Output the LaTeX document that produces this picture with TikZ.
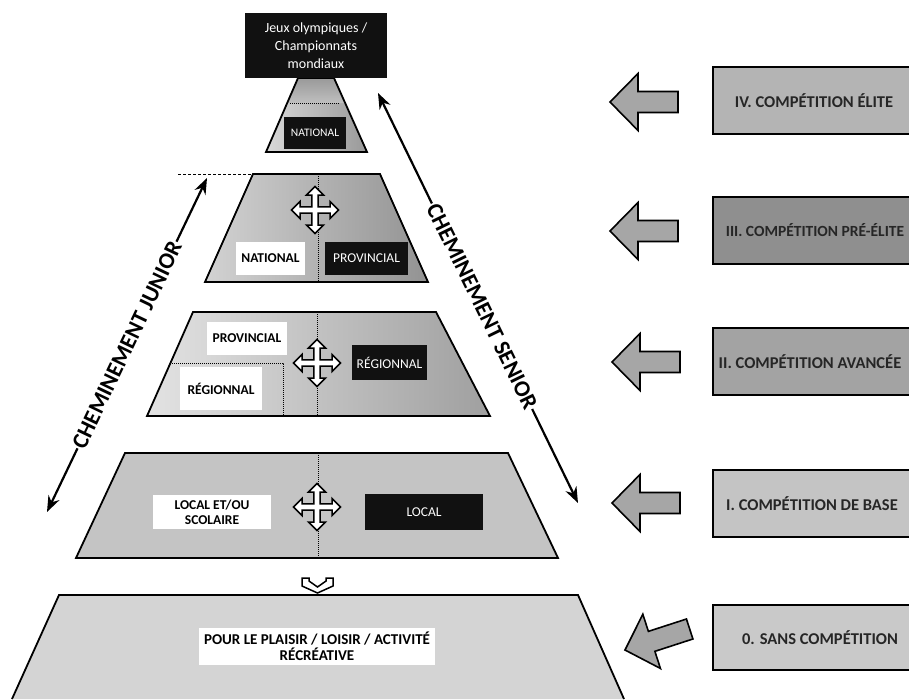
\documentclass[tikz,border=0pt]{standalone}
\usepackage{fontspec}
\setmainfont{Carlito}
\usetikzlibrary{arrows.meta}
\definecolor{arrowgray}{HTML}{A6A6A6}
\definecolor{boxfour}{HTML}{B4B4B4}
\definecolor{boxthree}{HTML}{8F8F8F}
\definecolor{boxtwo}{HTML}{A3A3A3}
\definecolor{boxone}{HTML}{C4C4C4}
\definecolor{boxzero}{HTML}{C9C9C9}
\definecolor{inkblack}{HTML}{111111}
\begin{document}
\begin{tikzpicture}[x=1pt,y=-1pt,
  trap/.style={draw=black, line width=1.8pt, line join=miter},
  divider/.style={densely dotted, line width=1pt},
  lightlabel/.style={fill=white, text=black, inner sep=0pt, align=center,
    font=\bfseries\fontsize{13.5}{15}\selectfont},
  darklabel/.style={fill=inkblack, text=white, inner sep=0pt, align=center,
    font=\fontsize{13.5}{15}\selectfont},
  levelbox/.style={draw=black, line width=1.8pt},
  leveltext/.style={font=\bfseries\fontsize{16.5}{18}\selectfont, text=black!85},
  diag/.style={line width=2.2pt, arrows={Stealth[length=16pt,width=12pt]-Stealth[length=16pt,width=12pt]}},
  pathlabel/.style={fill=white, inner sep=1.5pt, font=\bfseries\fontsize{23}{25}\selectfont},
  leftblock/.pic={\draw[fill=arrowgray, line width=1.6pt, line join=miter]
     (0,0) -- (28,-28.5) -- (28,-10.5) -- (68,-10.5) -- (68,10.5) -- (28,10.5) -- (28,28.5) -- cycle;},
  fourway/.pic={\draw[fill=white, line width=1.5pt, line join=miter]
     (3.2,-3.2) -- (15,-3.2) -- (15,-8.5) -- (23.5,0) -- (15,8.5) -- (15,3.2) -- (3.2,3.2)
     -- (3.2,15) -- (8.5,15) -- (0,23.5) -- (-8.5,15) -- (-3.2,15) -- (-3.2,3.2)
     -- (-15,3.2) -- (-15,8.5) -- (-23.5,0) -- (-15,-8.5) -- (-15,-3.2) -- (-3.2,-3.2)
     -- (-3.2,-15) -- (-8.5,-15) -- (0,-23.5) -- (8.5,-15) -- (3.2,-15) -- cycle;}
]
\useasboundingbox (0,0) rectangle (909,699);
\clip (0,0) rectangle (909,699);

% ---------- level 0: recreation ----------
\fill[color=boxzero!80!white] (59,595) -- (578,595) -- (624,699) -- (12,699) -- cycle;
\draw[trap] (12,699) -- (59,595) -- (578,595) -- (624,699);
\node[lightlabel, font=\bfseries\fontsize{15}{16}\selectfont, minimum width=236pt, minimum height=37pt]
  (recre) at (317,646.5) {POUR LE PLAISIR / LOISIR / ACTIVITÉ\\RÉCRÉATIVE};

% chevron between level 0 and level I
\draw[fill=white, line width=1.5pt, line join=miter] (302,578) -- (309,578) -- (309,581) -- (317.5,587)
  -- (326,581) -- (326,578) -- (333,578) -- (333,586) -- (317.5,593) -- (302,586) -- cycle;

% ---------- level I ----------
\fill[color=boxone] (125,453) -- (508,453) -- (558,558) -- (76,558) -- cycle;
\draw[trap] (125,453) -- (508,453) -- (558,558) -- (76,558) -- cycle;
\draw[divider] (318,453) -- (318,558);
\node[lightlabel, minimum width=118pt, minimum height=34pt] (localscol) at (212,512)
  {LOCAL ET/OU\\SCOLAIRE};
\node[darklabel, minimum width=118pt, minimum height=36pt] (localblk) at (424,512) {LOCAL};
\pic at (317,507) {fourway};

% ---------- level II ----------
\shade[left color=gray!22, right color=gray!75] (193,312) -- (436,312) -- (490,416) -- (147,416) -- cycle;
\draw[trap] (193,312) -- (436,312) -- (490,416) -- (147,416) -- cycle;
\draw[divider] (317,312) -- (317,416);
\draw[divider] (170,363) -- (283,363) -- (283,416);
\node[lightlabel, minimum width=80pt, minimum height=33pt] (provw) at (247,338.5) {PROVINCIAL};
\node[lightlabel, minimum width=82pt, minimum height=43pt] (regw) at (221,388.5) {RÉGIONNAL};
\node[darklabel, minimum width=75pt, minimum height=35pt] (regblk) at (389.5,362.5) {RÉGIONNAL};
\pic at (317,363) {fourway};

% ---------- level III ----------
\shade[left color=gray!35, right color=gray!85] (253,174) -- (380,174) -- (428,282) -- (205,282) -- cycle;
\draw[trap] (253,174) -- (380,174) -- (428,282) -- (205,282) -- cycle;
\draw[divider] (318,174) -- (318,282);
\draw[densely dashed, line width=1pt] (178,174) -- (253,174);
\node[lightlabel, minimum width=69pt, minimum height=33pt] (natw) at (270.5,258.5) {NATIONAL};
\node[darklabel, minimum width=83pt, minimum height=33pt] (provblk) at (366.5,258.5) {PROVINCIAL};
\pic at (315,210) {fourway};

% ---------- level IV ----------
\shade[left color=gray!30, right color=gray!80] (298,78) -- (334,78) -- (367,152) -- (266,152) -- cycle;
\shade[top color=gray!80, bottom color=gray!50] (298,78) -- (334,78) -- (345,103) -- (287,103) -- cycle;
\draw[trap] (298,78) -- (334,78) -- (367,152) -- (266,152) -- cycle;
\draw[divider] (290,103) -- (340,103);
\node[darklabel, font=\fontsize{11.5}{12}\selectfont, minimum width=62pt, minimum height=32pt] (natblk) at (315,133) {NATIONAL};

\node[fill=inkblack, text=white, inner sep=0pt, align=center, minimum width=142pt, minimum height=65pt,
  font=\fontsize{14}{18}\selectfont] (summit) at (316,45.5)
  {Jeux olympiques /\\Championnats\\mondiaux};

% ---------- pathways ----------
\coordinate (jrLow) at (47,512);
\coordinate (jrHigh) at (207,178);
\coordinate (srHigh) at (378,93);
\coordinate (srLow) at (578,503);
\draw[diag] (jrLow) -- node[pathlabel, sloped] (jrLabel) {CHEMINEMENT JUNIOR} (jrHigh);
\draw[diag] (srHigh) -- node[pathlabel, sloped, pos=0.52] (srLabel) {CHEMINEMENT SENIOR} (srLow);

% ---------- competition levels ----------
\draw[levelbox, fill=boxfour] (713,67) rectangle (920,134);
\node[leveltext] (lvIV) at (814,100.5) {IV. COMPÉTITION ÉLITE};
\draw[levelbox, fill=boxthree] (713,197) rectangle (920,264);
\node[leveltext, font=\bfseries\fontsize{15.5}{17}\selectfont] (lvIII) at (815,230.5) {III. COMPÉTITION PRÉ-ÉLITE};
\draw[levelbox, fill=boxtwo] (713,328) rectangle (920,395);
\node[leveltext] (lvII) at (810,361.5) {II. COMPÉTITION AVANCÉE};
\draw[levelbox, fill=boxone] (713,470) rectangle (920,537);
\node[leveltext] (lvI) at (812,503.5) {I. COMPÉTITION DE BASE};
\draw[levelbox, fill=boxzero] (713,605) rectangle (920,670);
\node[leveltext] (lv0) at (820,637.5) {0. SANS COMPÉTITION};

\pic (arIV) at (610,102) {leftblock};
\pic (arIII) at (610,231) {leftblock};
\pic (arII) at (612,362) {leftblock};
\pic (arI) at (612,503) {leftblock};
\pic[rotate=18] (ar0) at (625,650) {leftblock};
\end{tikzpicture}
\end{document}
